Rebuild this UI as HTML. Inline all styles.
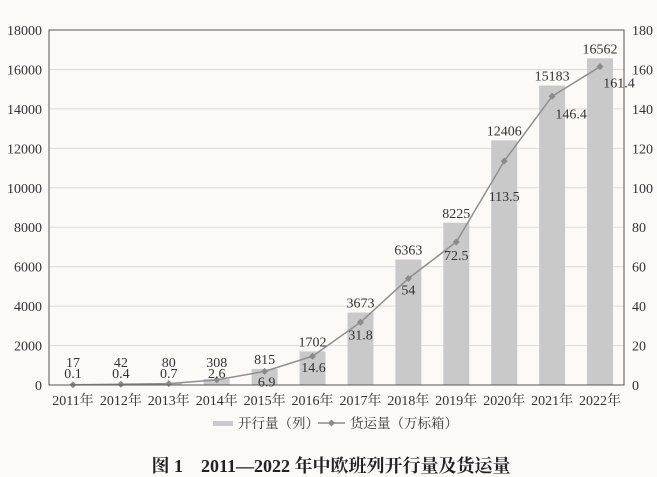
<!DOCTYPE html>
<html><head><meta charset="utf-8"><style>
body{margin:0;background:#fbfaf6;}
svg{display:block;font-family:"Liberation Serif","Noto Serif CJK SC",serif;}
</style></head><body>
<svg width="657" height="477" viewBox="0 0 657 477" xmlns="http://www.w3.org/2000/svg">
<rect width="657" height="477" fill="#fbfaf6"/>
<g id="grid"></g><g id="bars"></g><g id="line"></g><g id="labels"></g>
<rect x="49" y="30" width="575" height="355" fill="none" stroke="#555" stroke-width="1"/>
<g font-size="13.5" fill="#333">
<rect x="213" y="421" width="20" height="5" fill="#c9c9c9"/>
<text x="238" y="428">开行量（列）</text>
<line x1="318" y1="423" x2="345" y2="423" stroke="#8a8a8a" stroke-width="1.5"/>
<path d="M331.5 419.5 L335 423 L331.5 426.5 L328 423Z" fill="#8a8a8a"/>
<text x="350" y="428">货运量（万标箱）</text>
</g>
<text x="331" y="472" text-anchor="middle" font-size="18" font-weight="bold" fill="#222">图 1　2011—2022 年中欧班列开行量及货运量</text>
</svg>
<script>
const categories=["2011年","2012年","2013年","2014年","2015年","2016年","2017年","2018年","2019年","2020年","2021年","2022年"];
const trains=[17,42,80,308,815,1702,3673,6363,8225,12406,15183,16562];
const teu=[0.1,0.4,0.7,2.6,6.9,14.6,31.8,54,72.5,113.5,146.4,161.4];
const leftTicks=[0,2000,4000,6000,8000,10000,12000,14000,16000,18000];
const rightTicks=[0,20,40,60,80,100,120,140,160,180];
const X0=49,X1=624,Y0=385,Y1=30;
const bw=(X1-X0)/categories.length;
const xc=i=>X0+bw*(i+0.5);
const yL=v=>Y0-(v/18000)*(Y0-Y1);
const yR=v=>Y0-(v/180)*(Y0-Y1);
const NS="http://www.w3.org/2000/svg";
function mk(tag,attrs,parent,txt){const e=document.createElementNS(NS,tag);for(const k in attrs)e.setAttribute(k,attrs[k]);if(txt!==undefined)e.textContent=txt;parent.appendChild(e);return e;}
const grid=document.getElementById('grid'),bars=document.getElementById('bars'),line=document.getElementById('line'),labels=document.getElementById('labels');
leftTicks.forEach(t=>{
 if(t>0&&t<18000){const g=mk('line',{x1:X0,x2:X1,y1:yL(t),y2:yL(t),stroke:'#dcdcdc','stroke-width':1},grid);
 
 }
 const e=mk('text',{x:42,y:yL(t)+5,'text-anchor':'end','font-size':14,fill:'#333'},grid,String(t));
 
 
});
rightTicks.forEach(t=>{
 const e=mk('text',{x:632,y:yR(t)+5,'font-size':14,fill:'#333'},grid,String(t));
 
 
});
categories.forEach((c,i)=>{
 const e=mk('text',{x:xc(i),y:405,'text-anchor':'middle','font-size':14,fill:'#333'},grid,c);
 
 
});
trains.forEach((v,i)=>{
 const y=yL(v);
 const b=mk('rect',{x:xc(i)-13,y:y,width:26,height:Y0-y,fill:'#c9c9c9'},bars);
 
 
 const ty=i<4?Y0-18:y-5;
 const t=mk('text',{x:xc(i),y:ty,'text-anchor':'middle','font-size':14,fill:'#333'},labels,String(v));
 
 
});
const pts=teu.map((v,i)=>[xc(i),yR(v)]);
const pl=mk('polyline',{points:pts.map(p=>p.join(',')).join(' '),fill:'none',stroke:'#8f8f8f','stroke-width':1.5},line);


const lblOff=[[0,0],[0,0],[0,0],[0,0],[2,15],[1,16],[0,17],[0,16],[0,18],[0,40],[19,22],[19,21]];
pts.forEach((p,i)=>{
 const m=mk('path',{d:`M${p[0]} ${p[1]-3.5} L${p[0]+3.5} ${p[1]} L${p[0]} ${p[1]+3.5} L${p[0]-3.5} ${p[1]}Z`,fill:'#8a8a8a'},line);
 
 
 const ly=i<4?Y0-7:p[1]+lblOff[i][1];
 const t=mk('text',{x:p[0]+lblOff[i][0],y:ly,'text-anchor':'middle','font-size':14,fill:'#333'},labels,String(teu[i]));
 
 
});
</script>
</body></html>
